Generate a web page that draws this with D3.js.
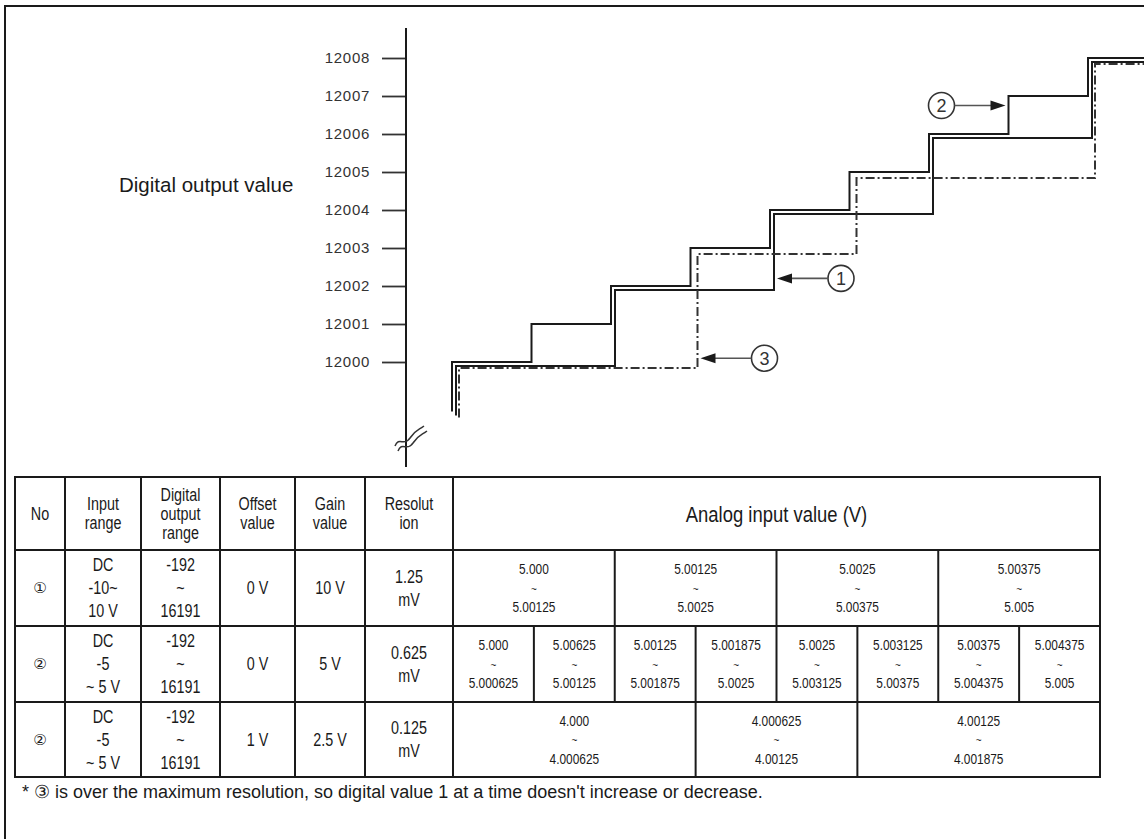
<!DOCTYPE html>
<html><head><meta charset="utf-8">
<script src="https://cdn.jsdelivr.net/npm/d3@7"></script>
<style>html,body{margin:0;padding:0;background:#fff;} svg{display:block;}</style>
</head><body><svg id="c" width="1144" height="839"></svg>
<script>
// ---------------- data ----------------
const yTicks = [12000, 12001, 12002, 12003, 12004, 12005, 12006, 12007, 12008];
const yLabel = "Digital output value";
// x positions expressed in 0.625 mV slots from 5.000 V (8 slots = 5.000 ~ 5.005)
const s1Slots = [0, 2, 4, 6, 8];
const s1Levels = [12000, 12002, 12004, 12006, 12008];
const s2Slots = [0, 1, 2, 3, 4, 5, 6, 7, 8];
const s2Levels = [12000, 12001, 12002, 12003, 12004, 12005, 12006, 12007, 12008];
const s3Slots = [0, 3, 5, 8];
const s3Levels = [12000, 12003, 12005, 12008];
const startLevel = 11998.7;
const endSlot = 8.75;
const annLabels = ["2", "1", "3"];
const annSlots = [7, 4, 3];
const annLevels = [12006.75, 12002.2, 12000.1];

const headCols = [["No"], ["Input", "range"], ["Digital", "output", "range"], ["Offset", "value"], ["Gain", "value"], ["Resolut", "ion"]];
const analogHeader = "Analog input value (V)";
const rowNo = ["①", "②", "②"];
const rowInput = [["DC", "-10~", "10 V"], ["DC", "-5", "~ 5 V"], ["DC", "-5", "~ 5 V"]];
const rowDigital = [["-192", "~", "16191"], ["-192", "~", "16191"], ["-192", "~", "16191"]];
const rowOffset = [["0 V"], ["0 V"], ["1 V"]];
const rowGain = [["10 V"], ["5 V"], ["2.5 V"]];
const rowRes = [["1.25", "mV"], ["0.625", "mV"], ["0.125", "mV"]];
const analog1 = [["5.000", "5.00125"], ["5.00125", "5.0025"], ["5.0025", "5.00375"], ["5.00375", "5.005"]];
const analog1Span = [2, 2, 2, 2];
const analog2 = [["5.000", "5.000625"], ["5.00625", "5.00125"], ["5.00125", "5.001875"], ["5.001875", "5.0025"],
                 ["5.0025", "5.003125"], ["5.003125", "5.00375"], ["5.00375", "5.004375"], ["5.004375", "5.005"]];
const analog2Span = [1, 1, 1, 1, 1, 1, 1, 1];
const analog3 = [["4.000", "4.000625"], ["4.000625", "4.00125"], ["4.00125", "4.001875"]];
const analog3Span = [3, 2, 3];
const footnote = "* ③ is over the maximum resolution, so digital value 1 at a time doesn't increase or decrease.";

// ---------------- drawing ----------------
const svg = d3.select("#c");
const FONT = "'Liberation Sans', Arial, sans-serif";
const ink = "#1a1a1a";

// frame
svg.append("path").attr("d", "M5,839 L5,6 L1144,6").attr("fill", "none").attr("stroke", ink).attr("stroke-width", 2);

// scales
const yS = d3.scaleLinear().domain([12000, 12008]).range([362, 58]);
const xC = d3.scaleLinear().domain([0, 8]).range([452, 1088]);

// axis
const axisX = 406;
const ax = svg.append("g").attr("transform", `translate(${axisX},0)`)
  .call(d3.axisLeft(yS).tickValues(yTicks).tickSize(24).tickPadding(12).tickFormat(d3.format("d")));
ax.select(".domain").remove();
ax.selectAll(".tick line").attr("stroke", "#333").attr("stroke-width", 1.8);
ax.selectAll(".tick text").attr("font-family", FONT).attr("font-size", 15).attr("fill", "#333")
  .attr("letter-spacing", "0.7px");
svg.append("line").attr("x1", axisX).attr("x2", axisX).attr("y1", 28).attr("y2", 467)
  .attr("stroke", ink).attr("stroke-width", 2);
// axis break mark
svg.append("path").attr("d", "M395,446 C399,436 404,447 410,438 C415,430 419,430 424,426")
  .attr("fill", "none").attr("stroke", "#333").attr("stroke-width", 1.5);
svg.append("path").attr("d", "M398,451 C402,441 407,452 413,443 C418,435 422,435 427,431")
  .attr("fill", "none").attr("stroke", "#333").attr("stroke-width", 1.5);

svg.append("text").attr("x", 119).attr("y", 192).attr("font-family", FONT).attr("font-size", 20.5)
  .attr("fill", ink).text(yLabel);

// step lines
function pts(slots, levels) {
  const p = [[slots[0], startLevel]];
  slots.forEach((s, i) => p.push([s, levels[i]]));
  p.push([endSlot, levels[levels.length - 1]]);
  return p;
}
const series = [
  {slots: s2Slots, levels: s2Levels, dx: 0, dy: 0, dash: null},
  {slots: s1Slots, levels: s1Levels, dx: 4, dy: 4, dash: null},
  {slots: s3Slots, levels: s3Levels, dx: 7, dy: 6, dash: "9,3,2,3"}
];
series.forEach(s => {
  const line = d3.line().x(d => xC(d[0]) + s.dx).y(d => yS(d[1]) + s.dy).curve(d3.curveStepAfter);
  svg.append("path").attr("d", line(pts(s.slots, s.levels))).attr("fill", "none")
    .attr("stroke", s.dash ? "#333" : ink).attr("stroke-width", 2)
    .attr("stroke-dasharray", s.dash);
});

// annotations (circle label + arrow)
const annSeriesDx = [0, 4, 7];
const annDir = [1, -1, -1]; // 1: arrow points right, -1: points left
annLabels.forEach((lab, i) => {
  const dir = annDir[i];
  const tipX = xC(annSlots[i]) + annSeriesDx[i] - dir * 3;
  const y = yS(annLevels[i]);
  const cx = tipX - dir * 64;
  const r = 13;
  svg.append("circle").attr("cx", cx).attr("cy", y).attr("r", r).attr("fill", "none")
    .attr("stroke", "#333").attr("stroke-width", 1.6);
  svg.append("text").attr("x", cx).attr("y", y).attr("dy", "0.36em").attr("text-anchor", "middle")
    .attr("font-family", FONT).attr("font-size", 18).attr("fill", "#333").text(lab);
  svg.append("line").attr("x1", cx + dir * r).attr("x2", tipX - dir * 12).attr("y1", y).attr("y2", y)
    .attr("stroke", "#555").attr("stroke-width", 1.6);
  svg.append("path").attr("d", `M${tipX},${y} L${tipX - dir * 15},${y - 5} L${tipX - dir * 15},${y + 5} Z`)
    .attr("fill", ink);
});

// ---------------- table ----------------
const colEdges = [15, 65, 141, 220, 295, 365, 453];
const tabRight = 1100;
const rowEdges = [477, 550, 626, 702, 777];
const xT = d3.scaleLinear().domain([0, 8]).range([453, tabRight]);
const tg = svg.append("g");
function hline(x1, x2, y) { tg.append("line").attr("x1", x1).attr("x2", x2).attr("y1", y).attr("y2", y).attr("stroke", ink).attr("stroke-width", 2); }
function vline(x, y1, y2) { tg.append("line").attr("x1", x).attr("x2", x).attr("y1", y1).attr("y2", y2).attr("stroke", ink).attr("stroke-width", 2); }
rowEdges.forEach(y => hline(colEdges[0] - 1, tabRight + 1, y));
colEdges.forEach(x => vline(x, rowEdges[0], rowEdges[4]));
vline(tabRight, rowEdges[0], rowEdges[4]);

function ntext(x, y, str, size, sx) {
  tg.append("text").attr("transform", `translate(${x},${y}) scale(${sx},1)`).attr("text-anchor", "middle")
    .attr("dy", "0.36em").attr("font-family", FONT).attr("font-size", size).attr("fill", ink).text(str);
}
function multi(x, yc, lines, gap, size) {
  const n = lines.length;
  lines.forEach((t, i) => ntext(x, yc + (i - (n - 1) / 2) * gap, t, size, 0.82));
}
const colMid = i => (colEdges[i] + colEdges[i + 1]) / 2;
const rowMid = i => (rowEdges[i] + rowEdges[i + 1]) / 2;
headCols.forEach((h, i) => multi(colMid(i), rowMid(0), h, 19, 17.5));
ntext((453 + tabRight) / 2, rowMid(0), analogHeader, 22.5, 0.82);

for (let r = 0; r < 3; r++) {
  const yc = rowMid(r + 1);
  tg.append("text").attr("x", colMid(0)).attr("y", yc).attr("dy", "0.36em").attr("text-anchor", "middle")
    .attr("font-family", "'DejaVu Sans', sans-serif").attr("font-size", 15).attr("fill", ink).text(rowNo[r]);
  multi(colMid(1), yc, rowInput[r], 23, 17.5);
  multi(colMid(2), yc, rowDigital[r], 23, 17.5);
  multi(colMid(3), yc, rowOffset[r], 23, 17.5);
  multi(colMid(4), yc, rowGain[r], 23, 17.5);
  multi(colMid(5), yc, rowRes[r], 23, 17.5);
}
const analogRows = [[analog1, analog1Span], [analog2, analog2Span], [analog3, analog3Span]];
analogRows.forEach(([vals, spans], r) => {
  const yc = rowMid(r + 1);
  let acc = 0;
  vals.forEach((v, i) => {
    const a = acc, b = acc + spans[i];
    if (i > 0) vline(xT(a), rowEdges[r + 1], rowEdges[r + 2]);
    const xm = (xT(a) + xT(b)) / 2;
    ntext(xm, yc - 19, v[0], 14, 0.85);
    ntext(xm, yc + 1, "~", 10, 1);
    ntext(xm, yc + 19, v[1], 14, 0.85);
    acc = b;
  });
});

svg.append("text").attr("x", 22).attr("y", 798).attr("font-family", FONT).attr("font-size", 18)
  .attr("fill", ink).text(footnote);
</script>
</body></html>
